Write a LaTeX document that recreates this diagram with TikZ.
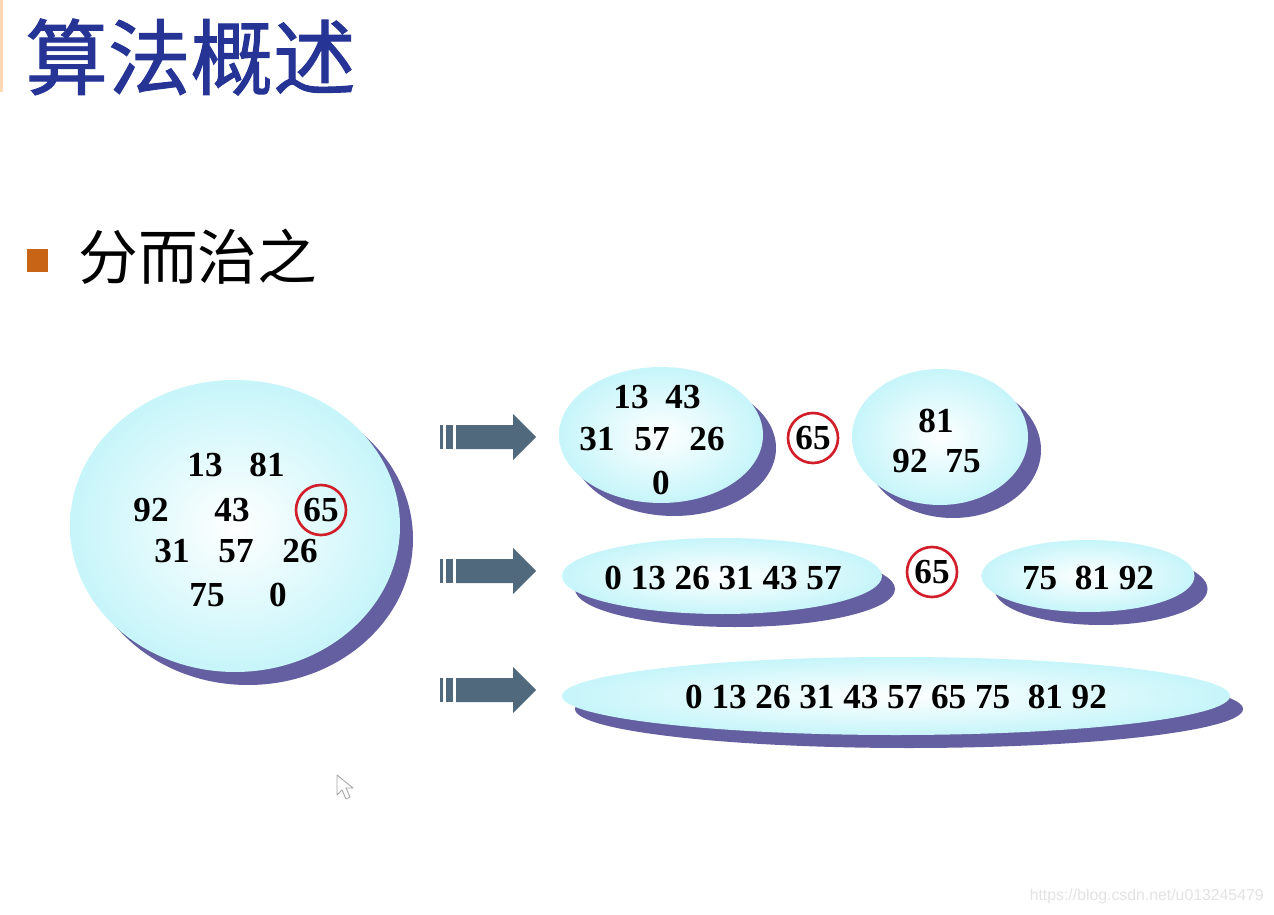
\documentclass[tikz,border=0pt]{standalone}
\usepackage{fontspec}
\setmainfont{Liberation Serif}
\newfontfamily\cjk{Noto Sans CJK SC}
\newfontfamily\cjktitle[FakeBold=1.2]{Noto Sans CJK SC}
\newfontfamily\wmfont{Liberation Sans}
\usetikzlibrary{shapes.geometric,shadows}
\definecolor{titleblue}{RGB}{38,52,150}
\definecolor{bulletor}{RGB}{200,100,22}
\definecolor{cyanedge}{RGB}{198,245,250}
\definecolor{shadowc}{RGB}{100,95,160}
\definecolor{arrowc}{RGB}{80,105,125}
\definecolor{ringred}{RGB}{210,30,40}
\def\px{0.02cm}
\begin{document}
\begin{tikzpicture}[x=0.02cm,y=-0.02cm,
  blob/.style n args={2}{ellipse, inner sep=0pt, minimum width=#1*\px, minimum height=#2*\px,
    shading=radial, inner color=white, outer color=cyanedge,
    general shadow={fill=shadowc, shadow xshift=13*\px, shadow yshift=-13*\px}},
  num/.style={font=\bfseries\fontsize{20}{22}\selectfont, inner sep=0pt},
  ring/.style={circle, draw=ringred, line width=1.5pt, minimum size=50*\px, inner sep=0pt,
    font=\bfseries\fontsize{20}{22}\selectfont},
  fatarrow/.pic={
    \fill[arrowc] (0,-12) rectangle (3,12);
    \fill[arrowc] (6,-12) rectangle (13,12);
    \fill[arrowc] (16,-12) -- (73,-12) -- (73,-23) -- (96,0) -- (73,23) -- (73,12) -- (16,12) -- cycle;
  }]
\useasboundingbox (0,0) rectangle (1274,915);
\fill[white] (0,0) rectangle (1274,915);
\fill[orange!30] (0,0) rectangle (3,92);

% title
\node[anchor=west, inner sep=0pt, text=titleblue, font=\cjktitle\fontsize{47}{50}\selectfont] (title) at (25,57) {算法概述};
% bullet
\fill[bulletor] (27,249) rectangle (48,272);
\node[anchor=west, inner sep=0pt, font=\cjk\fontsize{34}{36}\selectfont] (bullet) at (78,257) {分而治之};

% big set
\node[blob={330}{292}] (big) at (235,526) {};
\node[num] (b13) at (205,465) {13};
\node[num] (b81) at (267,465) {81};
\node[num] (b92) at (151,510) {92};
\node[num] (b43) at (232,510) {43};
\node[ring] (b65) at (321,510) {65};
\node[num] (b31) at (172,551) {31};
\node[num] (b57) at (236,551) {57};
\node[num] (b26) at (300,551) {26};
\node[num] (b75) at (207,595) {75};
\node[num] (b0) at (278,595) {0};

% arrows
\pic at (440,437) {fatarrow};
\pic at (440,571) {fatarrow};
\pic at (440,690) {fatarrow};

% row 1
\node[blob={204}{136}] (l1) at (661,435) {};
\node[num] (l13) at (631,397) {13};
\node[num] (l43) at (683,397) {43};
\node[num] (l31) at (597,439) {31};
\node[num] (l57) at (652,439) {57};
\node[num] (l26) at (707,439) {26};
\node[num] (l0) at (661,483) {0};
\node[ring] (p1) at (813,438) {65};
\node[blob={176}{136}] (r1) at (940,437) {};
\node[num] (r81) at (936,421) {81};
\node[num] (r92) at (910,461) {92};
\node[num] (r75) at (963,461) {75};

% row 2
\node[blob={320}{76}] (l2) at (722,576) {};
\node[num] (l2t) at (723,578) {0 13 26 31 43 57};
\node[ring] (p2) at (932,572) {65};
\node[blob={213}{72}] (r2) at (1088,576) {};
\node[num] (r2t) at (1088,578) {75\ \ 81 92};

% row 3
\node[blob={668}{78}] (all) at (896,696) {};
\node[num] (allt) at (896,697) {0 13 26 31 43 57 65 75\ \ 81 92};

% cursor
\draw[gray!70, fill=white, line width=0.5pt, line join=round]
  (337,775) -- (337,795) -- (342,790) -- (346,799) -- (350,797) -- (346,788) -- (353,788) -- cycle;

% watermark
\node[anchor=east, inner sep=0pt, text=gray!22, font=\wmfont\fontsize{9}{10}\selectfont] (wm) at (1264,896) {https://blog.csdn.net/u013245479};
\end{tikzpicture}
\end{document}
